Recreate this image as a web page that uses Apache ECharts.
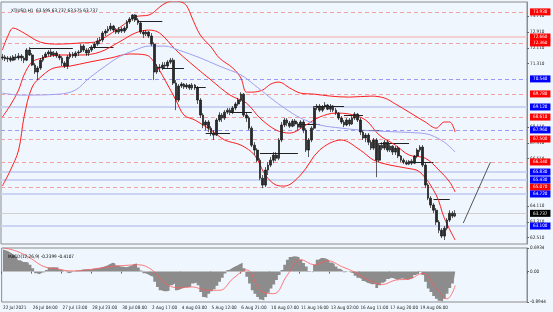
<!DOCTYPE html>
<html><head><meta charset="utf-8">
<script src="https://cdn.jsdelivr.net/npm/echarts@6/dist/echarts.min.js"></script>
<style>html,body{margin:0;padding:0;background:#fff}#c{width:553px;height:312px}</style>
</head><body><div id="c"></div>
<script>
// ---------- data ----------
const symbolTitle = 'XTIUSD,H1  63.595 63.737 63.575 63.737';
const macdTitle = 'MACD(12,26,9) -0.2399 -0.4107';
const slotCount = 194;          // 3-hour slots on the time axis
const barsPerLabel = 11;        // 33 hours between time labels
const timeLabels = ['22 Jul 2021','26 Jul 04:00','27 Jul 13:00','28 Jul 23:00','30 Jul 08:00','2 Aug 17:00','4 Aug 03:00','5 Aug 12:00','6 Aug 21:00','10 Aug 07:00','11 Aug 16:00','13 Aug 02:00','16 Aug 11:00','17 Aug 20:00','19 Aug 06:00'];
const priceTicks = [62.51, 63.31, 64.11, 66.51, 67.31, 68.11, 71.31, 72.11, 72.91, 73.71];
const macdTicks = [0.6934, 0, -0.8944];
// [open, close, low, high]
const priceBars = [
[71.60,71.65,71.49,71.80],[71.65,71.55,71.44,71.75],[71.55,71.60,71.39,71.70],[71.60,71.49,71.39,71.70],[71.49,71.65,71.44,71.75],
[71.65,71.60,71.49,71.80],[71.60,71.70,71.49,71.85],[71.70,71.60,71.44,71.80],[71.60,71.49,71.34,71.70],[71.49,72.00,71.44,72.10],
[72.00,71.75,71.70,72.15],[71.75,71.24,71.19,71.85],[71.24,70.89,70.79,71.34],[70.89,71.09,70.48,71.19],[71.09,71.49,70.99,71.60],
[71.49,71.65,71.39,71.75],[71.65,71.80,71.60,71.90],[71.80,71.90,71.70,72.00],[71.90,71.75,71.65,72.05],[71.75,71.85,71.65,71.95],
[71.85,71.70,71.60,71.95],[71.70,71.60,71.49,71.80],[71.60,71.34,71.19,71.70],[71.34,71.19,71.09,71.44],[71.19,71.65,71.04,71.75],
[71.65,71.80,71.55,71.90],[71.80,71.70,71.60,71.90],[71.70,71.85,71.60,71.95],[71.85,71.90,71.70,72.00],[71.90,72.20,71.85,72.30],
[72.20,72.00,71.90,72.30],[72.00,71.85,71.70,72.10],[71.85,72.00,71.70,72.10],[72.00,72.15,71.90,72.25],[72.15,72.30,72.05,72.40],
[72.30,72.46,72.20,72.61],[72.46,72.51,72.30,72.66],[72.51,72.86,72.40,72.96],[72.86,72.96,72.71,73.06],[72.96,73.06,72.86,73.21],
[73.06,73.21,72.96,73.37],[73.21,73.01,72.91,73.27],[73.01,72.91,72.81,73.11],[72.91,73.06,72.81,73.16],[73.06,72.96,72.86,73.16],
[72.96,73.11,72.86,73.21],[73.11,73.42,73.01,73.52],[73.42,73.57,73.32,73.67],[73.57,73.77,73.47,73.82],[73.77,73.52,73.42,73.82],
[73.52,73.37,73.27,73.62],[73.37,72.91,72.81,73.47],[72.91,72.81,72.61,73.01],[72.81,72.91,72.71,73.01],[72.91,72.71,72.61,72.96],
[72.71,72.30,72.20,72.86],[72.30,70.89,70.48,72.40],[70.89,71.14,70.79,71.29],[71.14,71.09,70.89,71.29],[71.09,71.24,70.99,71.39],
[71.24,71.19,71.04,71.39],[71.19,71.39,71.09,71.49],[71.39,71.49,71.29,71.60],[71.49,70.33,70.23,71.60],[70.33,69.47,68.96,70.48],
[69.47,70.18,69.37,70.28],[70.18,70.28,70.08,70.38],[70.28,70.13,70.03,70.33],[70.13,70.23,70.03,70.33],[70.23,70.08,69.98,70.28],
[70.08,70.23,69.98,70.33],[70.23,70.08,69.98,70.28],[70.08,69.47,69.27,70.18],[69.47,68.71,68.56,69.57],[68.71,68.21,68.05,68.81],
[68.21,68.36,67.95,68.46],[68.36,68.05,67.85,68.46],[68.05,67.80,67.65,68.15],[67.80,67.70,67.45,67.95],[67.70,68.46,67.65,68.56],
[68.46,68.71,68.36,68.86],[68.71,68.56,68.36,68.81],[68.56,68.86,68.46,68.96],[68.86,68.96,68.76,69.07],[68.96,68.86,68.71,69.07],
[68.86,69.07,68.76,69.17],[69.07,69.27,68.96,69.37],[69.27,69.47,69.17,69.57],[69.47,69.77,69.37,69.87],[69.77,68.71,68.61,69.82],
[68.71,68.56,68.36,68.86],[68.56,68.05,67.95,68.66],[68.05,67.19,67.09,68.15],[67.19,66.94,66.69,67.34],[66.94,66.43,66.33,67.04],
[66.43,65.52,65.42,66.53],[65.52,65.17,65.02,65.68],[65.17,65.93,65.07,66.08],[65.93,66.18,65.68,66.33],[66.18,66.43,66.08,66.59],
[66.43,66.69,66.28,66.84],[66.69,66.53,66.38,66.84],[66.53,67.45,66.43,67.55],[67.45,68.21,67.34,68.36],[68.21,68.46,68.10,68.56],
[68.46,68.31,68.15,68.56],[68.31,68.15,68.05,68.41],[68.15,68.41,68.10,68.51],[68.41,68.26,68.15,68.51],[68.26,68.10,67.95,68.36],
[68.10,68.36,68.05,68.46],[68.36,67.95,67.80,68.46],[67.95,66.94,66.84,68.05],[66.94,67.45,66.59,67.55],[67.45,68.05,67.34,68.15],
[68.05,69.07,67.95,69.17],[69.07,69.17,68.96,69.27],[69.17,68.96,68.86,69.27],[68.96,69.12,68.86,69.22],[69.12,69.22,69.01,69.37],
[69.22,69.01,68.96,69.27],[69.01,69.17,68.86,69.27],[69.17,68.96,68.86,69.22],[68.96,68.81,68.71,69.07],[68.81,68.56,68.46,68.86],
[68.56,68.36,68.26,68.66],[68.36,68.21,68.10,68.46],[68.21,68.46,68.15,68.56],[68.46,68.26,68.15,68.56],[68.26,68.56,68.21,68.66],
[68.56,68.76,68.46,68.86],[68.76,68.46,68.36,68.81],[68.46,67.85,67.70,68.56],[67.85,67.55,67.45,67.95],[67.55,67.70,67.34,67.80],
[67.70,67.34,67.19,67.80],[67.34,67.04,66.94,67.45],[67.04,67.45,66.94,67.55],[67.45,66.43,65.57,67.55],[66.43,67.19,66.33,67.30],
[67.19,67.04,66.94,67.34],[67.04,67.34,66.94,67.45],[67.34,66.94,66.84,67.45],[66.94,67.14,66.84,67.24],[67.14,66.84,66.69,67.19],
[66.84,67.04,66.69,67.14],[67.04,66.64,66.53,67.14],[66.64,66.43,66.33,66.69],[66.43,66.33,66.23,66.53],[66.33,66.23,66.18,66.43],
[66.23,66.38,66.18,66.43],[66.38,66.28,66.18,66.48],[66.28,66.64,66.23,66.69],[66.64,66.94,66.53,67.04],[66.94,67.09,66.84,67.19],
[67.09,66.18,66.08,67.19],[66.18,65.17,65.02,66.28],[65.17,64.51,64.41,65.27],[64.51,64.16,64.01,64.61],[64.16,63.90,63.75,64.26],
[63.90,63.30,63.15,64.01],[63.30,62.89,62.74,63.40],[62.89,62.59,62.49,62.99],[62.59,62.99,62.39,63.10],[62.99,63.40,62.89,63.50],
[63.40,63.75,63.30,63.90],[63.75,63.60,63.50,63.85],[63.60,63.737,63.55,63.90]
];
const macdHist = [
0.65,0.63,0.60,0.55,0.50,0.45,0.33,0.28,0.28,0.27,0.20,0.10,-0.05,-0.08,-0.03,-0.02,0.05,0.12,0.13,0.13,
0.12,0.06,0.02,-0.02,-0.05,-0.02,0.02,0.03,0.04,0.06,0.07,0.07,0.06,0.08,0.09,0.10,0.13,0.15,0.18,0.22,
0.26,0.24,0.18,0.15,0.14,0.13,0.15,0.18,0.22,0.24,0.12,0.03,-0.05,-0.08,-0.12,-0.15,-0.30,-0.45,-0.55,-0.58,
-0.58,-0.56,-0.40,-0.35,-0.55,-0.52,-0.48,-0.46,-0.46,-0.44,-0.35,-0.32,-0.40,-0.60,-0.75,-0.78,-0.65,-0.58,-0.52,-0.42,
-0.30,-0.18,-0.06,0.05,0.10,0.14,0.18,0.22,0.26,0.10,-0.15,-0.35,-0.55,-0.65,-0.75,-0.82,-0.85,-0.75,-0.62,-0.50,
-0.38,-0.25,-0.10,0.05,0.20,0.35,0.43,0.45,0.44,0.42,0.35,0.25,0.15,0.02,-0.03,0.20,0.35,0.40,0.40,0.38,
0.33,0.27,0.22,0.15,0.08,0.04,-0.02,0.00,-0.03,-0.05,-0.12,-0.18,-0.22,-0.28,-0.33,-0.35,-0.38,-0.36,-0.48,-0.40,
-0.33,-0.28,-0.22,-0.18,-0.20,-0.24,-0.22,-0.20,-0.22,-0.24,-0.22,-0.18,-0.10,-0.05,0.02,-0.10,-0.30,-0.50,-0.60,-0.72,
-0.80,-0.86,-0.88,-0.80,-0.65,-0.48,-0.35,-0.24
];
const macdSignal = [[0,0.70],[5,0.60],[10,0.40],[15,0.15],[20,0.08],[25,0.02],[30,0.04],[40,0.15],[45,0.18],[50,0.20],[55,0.05],[60,-0.35],[65,-0.48],[70,-0.45],[75,-0.55],[80,-0.55],[85,-0.20],[90,0.05],[95,-0.55],[100,-0.65],[105,-0.10],[110,0.35],[115,0.20],[120,0.32],[125,0.15],[130,-0.02],[135,-0.25],[140,-0.38],[145,-0.25],[150,-0.22],[155,-0.05],[160,-0.50],[164,-0.80],[167,-0.41]];
const upperBand = [[0,72.00],[2,72.70],[4,73.11],[8,72.86],[14,72.40],[21,72.30],[29,72.36],[34,72.40],[38,72.66],[43,73.11],[49,73.67],[54,73.77],[56,73.93],[59,74.28],[63,74.48],[66,74.43],[68,74.23],[70,73.62],[73,72.76],[77,72.15],[80,71.60],[85,71.09],[88,70.58],[90,69.87],[92,69.87],[96,69.98],[99,70.28],[102,70.38],[106,70.08],[110,69.82],[115,69.77],[121,69.67],[128,69.62],[136,69.67],[141,69.57],[145,69.27],[150,68.86],[156,68.36],[160,68.05],[163,68.36],[165,68.36],[167,67.85]];
const middleBand = [[0,68.61],[3,69.22],[6,69.98],[8,70.74],[11,71.40],[15,71.60],[21,71.75],[29,71.75],[36,71.90],[43,72.40],[49,72.86],[54,73.01],[58,72.86],[64,72.00],[69,71.39],[77,70.48],[84,69.72],[90,69.32],[95,68.56],[101,67.95],[106,67.80],[112,68.21],[117,68.61],[123,68.81],[128,68.76],[134,68.46],[139,67.70],[145,67.19],[150,66.69],[156,66.53],[161,65.93],[165,65.32],[167,64.82]];
const lowerBand = [[0,65.12],[3,65.93],[6,66.94],[8,68.61],[11,70.13],[15,70.74],[19,71.09],[25,71.19],[32,71.39],[40,71.60],[47,71.80],[53,71.75],[56,71.39],[60,70.48],[64,69.47],[67,68.71],[71,68.46],[77,67.95],[82,67.45],[88,67.19],[93,66.69],[97,65.68],[101,65.17],[104,65.12],[110,65.68],[117,66.94],[125,67.45],[132,66.94],[137,66.43],[143,66.18],[149,66.03],[154,65.83],[160,64.67],[163,63.50],[167,62.39]];
const slowMA = [[0,69.82],[7,69.72],[21,69.77],[27,69.98],[32,70.58],[38,71.19],[43,71.65],[49,72.00],[54,72.20],[60,72.20],[65,72.00],[73,71.60],[80,71.19],[88,70.74],[93,70.23],[99,69.57],[104,69.07],[110,68.56],[117,68.21],[125,68.05],[132,67.95],[139,67.90],[147,67.85],[154,67.80],[158,67.70],[163,67.34],[167,66.84]];
const redDashLevels = [73.93, 72.36, 69.78, 68.61, 67.50, 66.34, 65.07];
const redSolidLevels = [72.66];
const blueDashLevels = [70.54, 67.96];
const blueSolidLevels = [69.12, 65.83, 65.43, 64.72, 63.10];
const currentPrice = 63.737;
// [startSlot, endSlot, price]
const daySegments = [[10,26,72.10],[32,41,72.15],[50,59,73.47],[59,67,71.09],[71,75,70.13],[75,84,67.80],[84,92,68.86],[95,109,66.79],[109,117,68.26],[115,126,69.17],[126,133,68.71],[133,139,67.95],[139,150,67.30],[150,159,66.33],[159,165,64.46]];
const trendLine = [[170,63.25],[180,66.33]];

// ---------- chart ----------
const chart = echarts.init(document.getElementById('c'), null, {renderer:'canvas'});
const slots = Array.from({length: slotCount}, (_, i) => i);
const FONT = "'Liberation Sans Narrow','DejaVu Sans Condensed','Liberation Sans',sans-serif";
const FS = 4.6;
const levelLine = (v, color, type, width, box) => ({
  yAxis: v,
  lineStyle: {color: color, type: type, width: width},
  label: {show: true, position: 'end', distance: 3, formatter: v.toFixed(3), backgroundColor: box, color: '#fff', fontSize: FS, fontFamily: FONT, padding: [1, 3]}
});
const mlData = [];
redDashLevels.forEach(v => mlData.push(levelLine(v, '#F2A0A0', [4, 3], 1, '#FF0000')));
redSolidLevels.forEach(v => mlData.push(levelLine(v, '#F5C4C4', 'solid', 1.5, '#FF0000')));
blueDashLevels.forEach(v => mlData.push(levelLine(v, '#9A9AF5', [4, 3], 1, '#0000FF')));
blueSolidLevels.forEach(v => mlData.push(levelLine(v, '#CCD4F4', 'solid', 2, '#0000FF')));
mlData.push({yAxis: currentPrice, lineStyle: {color: '#D0D0D0', type: 'solid', width: 1},
  label: {show: true, position: 'end', distance: 3, formatter: currentPrice.toFixed(3), backgroundColor: '#000', color: '#fff', fontSize: FS, fontFamily: FONT, padding: [1, 3]}});
daySegments.forEach(s => mlData.push([{coord: [s[0], s[2]], lineStyle: {color: '#222', type: 'solid', width: 1}, label: {show: false}}, {coord: [s[1], s[2]]}]));
mlData.push([{coord: trendLine[0], lineStyle: {color: '#555', type: 'solid', width: 1}, label: {show: false}}, {coord: trendLine[1]}]);

const bandSeries = (name, data, color) => ({
  name: name, type: 'line', xAxisIndex: 0, yAxisIndex: 0, data: data, smooth: 0.35, clip: true,
  showSymbol: false, symbol: 'none', lineStyle: {color: color, width: 1}, silent: true, z: 3
});

chart.setOption({
  animation: false,
  backgroundColor: '#EFF6FD',
  title: [
    {text: symbolTitle, left: 6, top: 3, textStyle: {fontSize: FS, fontWeight: 'normal', color: '#000', fontFamily: FONT}},
    {text: macdTitle, left: 3, top: 249, textStyle: {fontSize: FS, fontWeight: 'normal', color: '#000', fontFamily: FONT}}
  ],
  grid: [
    {left: 1, right: 26, top: 2, height: 242, show: true, borderColor: '#8C8C8C', borderWidth: 1, backgroundColor: '#EFF6FD'},
    {left: 1, right: 26, top: 248, height: 54, show: true, borderColor: '#8C8C8C', borderWidth: 1, backgroundColor: '#EFF6FD'}
  ],
  xAxis: [
    {type: 'category', gridIndex: 0, data: slots, boundaryGap: true, axisLine: {show: false}, axisTick: {show: false}, axisLabel: {show: false}, splitLine: {show: false}},
    {type: 'category', gridIndex: 1, data: slots, boundaryGap: true,
      axisLine: {show: false}, splitLine: {show: false},
      axisTick: {show: true, length: 2, lineStyle: {color: '#666'}, interval: (i) => i % barsPerLabel === 0 && i / barsPerLabel < timeLabels.length},
      axisLabel: {show: true, fontSize: FS, color: '#222', fontFamily: FONT, margin: 3, align: 'left',
        interval: (i) => i % barsPerLabel === 0 && i / barsPerLabel < timeLabels.length,
        formatter: (v, i) => timeLabels[i / barsPerLabel] || ''}}
  ],
  yAxis: [
    {type: 'value', gridIndex: 0, position: 'right', min: 62.19, max: 74.43, scale: true,
      axisLine: {show: true, lineStyle: {color: '#8C8C8C'}}, splitLine: {show: false},
      axisTick: {show: true, length: 2, customValues: priceTicks, lineStyle: {color: '#666'}},
      axisLabel: {show: true, customValues: priceTicks, formatter: v => v.toFixed(3), fontSize: FS, color: '#222', fontFamily: FONT, margin: 3}},
    {type: 'value', gridIndex: 1, position: 'right', min: -0.8944, max: 0.6934,
      axisLine: {show: true, lineStyle: {color: '#8C8C8C'}}, splitLine: {show: false},
      axisTick: {show: true, length: 2, customValues: macdTicks, lineStyle: {color: '#666'}},
      axisLabel: {show: true, customValues: macdTicks, formatter: v => (v === 0 ? '0.00' : String(v)), fontSize: FS, color: '#222', fontFamily: FONT, margin: 3}}
  ],
  series: [
    {name: 'XTIUSD', type: 'candlestick', xAxisIndex: 0, yAxisIndex: 0, data: priceBars, barWidth: 2.2, z: 4,
      itemStyle: {color: '#2a2a2a', color0: '#2a2a2a', borderColor: '#1a1a1a', borderColor0: '#1a1a1a', borderWidth: 0.7},
      markLine: {silent: true, symbol: ['none', 'none'], animation: false, z: 2, data: mlData}},
    bandSeries('upper', upperBand, '#FF1E1E'),
    bandSeries('middle', middleBand, '#FF1E1E'),
    bandSeries('lower', lowerBand, '#FF1E1E'),
    bandSeries('ma', slowMA, '#A0A0F0'),
    {name: 'MACD', type: 'line', xAxisIndex: 1, yAxisIndex: 1, data: macdHist, step: 'middle', showSymbol: false, symbol: 'none',
      lineStyle: {width: 0}, areaStyle: {color: '#8C8C8C', opacity: 1, origin: 0}, silent: true, z: 2},
    {name: 'Signal', type: 'line', xAxisIndex: 1, yAxisIndex: 1, data: macdSignal, smooth: 0.4, showSymbol: false, symbol: 'none',
      lineStyle: {color: '#FF5A5A', width: 0.8}, silent: true, z: 5}
  ]
});
</script>
</body></html>
